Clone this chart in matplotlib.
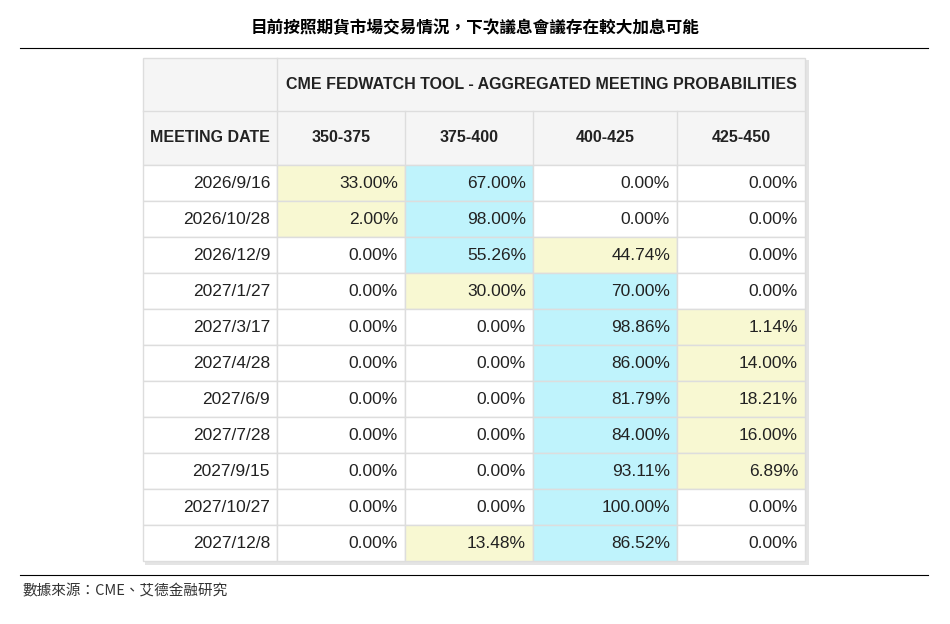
import matplotlib.pyplot as plt
from matplotlib.patches import Rectangle

plt.rcParams['font.family'] = ['Liberation Sans', 'Noto Sans CJK TC', 'DejaVu Sans']

# data
dates = ["2026/9/16", "2026/10/28", "2026/12/9", "2027/1/27", "2027/3/17", "2027/4/28",
         "2027/6/9", "2027/7/28", "2027/9/15", "2027/10/27", "2027/12/8"]
ranges = ["350-375", "375-400", "400-425", "425-450"]
p350 = [33.00, 2.00, 0.00, 0.00, 0.00, 0.00, 0.00, 0.00, 0.00, 0.00, 0.00]
p375 = [67.00, 98.00, 55.26, 30.00, 0.00, 0.00, 0.00, 0.00, 0.00, 0.00, 13.48]
p400 = [0.00, 0.00, 44.74, 70.00, 98.86, 86.00, 81.79, 84.00, 93.11, 100.00, 86.52]
p425 = [0.00, 0.00, 0.00, 0.00, 1.14, 14.00, 18.21, 16.00, 6.89, 0.00, 0.00]
title = "目前按照期貨市場交易情況，下次議息會議存在較大加息可能"
source = "數據來源：CME、艾德金融研究"

fig = plt.figure(figsize=(9.5, 6.24), dpi=100)
ax = fig.add_axes([0, 0, 1, 1])
ax.set_xlim(0, 950)
ax.set_ylim(624, 0)
ax.axis('off')

ax.text(475, 28, title, ha='center', va='center', fontsize=12, fontweight='bold',
        family=['Noto Sans CJK TC', 'DejaVu Sans'])
ax.plot([20, 928], [48, 48], color='black', lw=0.8)
ax.plot([20, 928], [575, 575], color='black', lw=0.8)
ax.text(22, 591, source, ha='left', va='center', fontsize=10.5, style='italic',
        color='#333333', family=['Noto Sans CJK TC', 'DejaVu Sans'])

cols = [143, 277, 405, 533, 677, 805]
top, h1, h2, rh = 58, 53, 54, 36
grid = '#dddddd'
cyan, yellow, head = '#bff3fc', '#f8f8d2', '#f5f5f5'
hfs, dfs = 11.5, 12.5

# shadow
ax.add_patch(Rectangle((cols[0] + 2, top + 2), cols[-1] - cols[0] + 2, h1 + h2 + rh * len(dates) + 2,
                       facecolor='#e4e4e4', edgecolor='none', zorder=0))
# header
ax.add_patch(Rectangle((cols[0], top), cols[-1] - cols[0], h1 + h2, facecolor=head, edgecolor=grid, zorder=1))
ax.plot([cols[1], cols[1]], [top, top + h1 + h2], color=grid, lw=1, zorder=2)
ax.plot([cols[1], cols[-1]], [top + h1, top + h1], color=grid, lw=1, zorder=2)
ax.plot([cols[0], cols[1]], [top + h1, top + h1], color=grid, lw=1, zorder=2)
for c in cols[2:-1]:
    ax.plot([c, c], [top + h1, top + h1 + h2], color=grid, lw=1, zorder=2)
ax.text((cols[1] + cols[-1]) / 2, top + h1 / 2, "CME FEDWATCH TOOL - AGGREGATED MEETING PROBABILITIES",
        ha='center', va='center', fontsize=hfs, fontweight='bold', color='#222222', zorder=3)
ax.text((cols[0] + cols[1]) / 2, top + h1 + h2 / 2, "MEETING DATE", ha='center', va='center',
        fontsize=hfs, fontweight='bold', color='#222222', zorder=3)
for j, r in enumerate(ranges):
    ax.text((cols[j + 1] + cols[j + 2]) / 2, top + h1 + h2 / 2, r, ha='center', va='center',
            fontsize=hfs, fontweight='bold', color='#222222', zorder=3)

y0 = top + h1 + h2
for i, d in enumerate(dates):
    vals = [p350[i], p375[i], p400[i], p425[i]]
    mx = max(vals)
    y = y0 + i * rh
    ax.add_patch(Rectangle((cols[0], y), cols[1] - cols[0], rh, facecolor='white', edgecolor=grid, zorder=1))
    ax.text(cols[1] - 7, y + rh / 2, d, ha='right', va='center', fontsize=dfs, color='#222222', zorder=3)
    for j, v in enumerate(vals):
        fc = 'white'
        if v == mx:
            fc = cyan
        elif v > 0:
            fc = yellow
        ax.add_patch(Rectangle((cols[j + 1], y), cols[j + 2] - cols[j + 1], rh, facecolor=fc,
                               edgecolor=grid, zorder=1))
        ax.text(cols[j + 2] - 7, y + rh / 2, f"{v:.2f}%", ha='right', va='center', fontsize=dfs,
                color='#222222', zorder=3)

fig.savefig("out.png", dpi=100)
